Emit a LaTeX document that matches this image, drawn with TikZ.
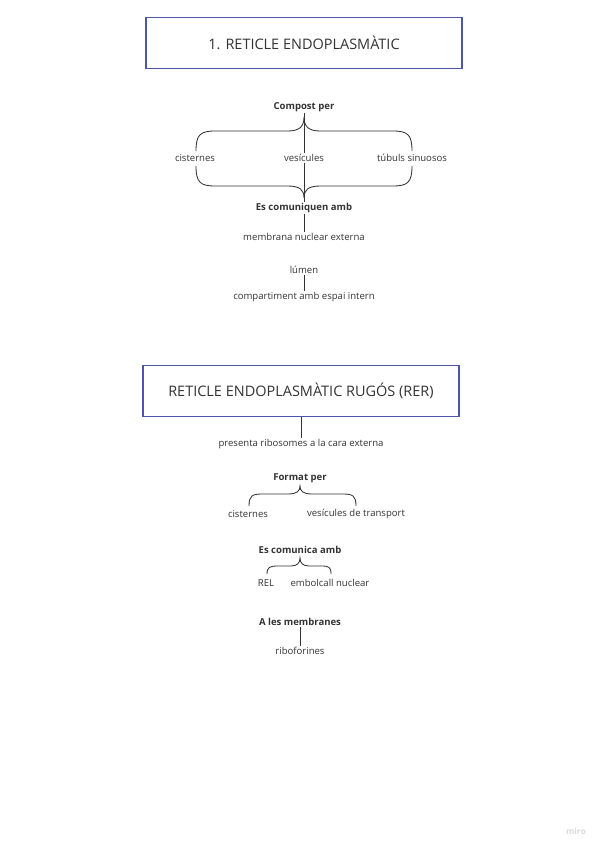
\documentclass[tikz,border=0pt]{standalone}
\usepackage{fontspec}
\setmainfont{Open Sans}
\usepackage{xcolor}
\usepackage{tikz}
\usetikzlibrary{positioning, calc}

\definecolor{boxblue}{HTML}{4B56A8}
\definecolor{inkgray}{HTML}{333333}

\begin{document}
\begin{tikzpicture}[
    x=0.025cm, y=-0.025cm,
    titlebox/.style={draw=boxblue, line width=1pt, minimum width=7.9cm, minimum height=1.27cm, font=\fontsize{10.3}{12}\selectfont, text=inkgray},
    label/.style={font=\fontsize{6.8}{8}\selectfont, text=inkgray, inner sep=1pt},
    heading/.style={font=\fontsize{6.8}{8}\selectfont\bfseries, text=inkgray, inner sep=1pt},
    link/.style={draw=inkgray, line width=0.6pt}
]
\useasboundingbox (0,0) rectangle (600,848);

% First title box
\node[titlebox] (retic) at (304,43) {1. RETICLE ENDOPLASMÀTIC};

% Composition
\node[heading] (compost) at (304,107) {Compost per};
\node[label] (cist) at (195,158) {cisternes};
\node[label] (vesic) at (304,158) {vesícules};
\node[label] (tubuls) at (412,158) {túbuls sinuosos};
\node[heading] (comuniquen) at (304,208) {Es comuniquen amb};
\node[label] (membrana) at (304,237) {membrana nuclear externa};
\node[label] (lumen) at (304,270) {lúmen};
\node[label] (compart) at (304,297) {compartiment amb espai intern};

% Braces
\draw[link] (196,151) .. controls (196,135) and (200,131) .. (215,131) -- (288,131)
    .. controls (300,131) and (304,126) .. (304,117)
    .. controls (304,126) and (308,131) .. (320,131) -- (393,131)
    .. controls (408,131) and (412,135) .. (412,151);
\draw[link] (196,166) .. controls (196,182) and (200,186) .. (215,186) -- (288,186)
    .. controls (300,186) and (304,190) .. (304,198)
    .. controls (304,190) and (308,186) .. (320,186) -- (393,186)
    .. controls (408,186) and (412,182) .. (412,166);

% Connections
\draw[link] (compost.south) -- (vesic.north);
\draw[link] (vesic.south) -- (comuniquen.north);
\draw[link] (comuniquen.south) -- (membrana.north);
\draw[link] (lumen.south) -- (compart.north);

% Second title box
\node[titlebox] (rer) at (301,391) {RETICLE ENDOPLASMÀTIC RUGÓS (RER)};
\node[label] (ribos) at (301,444) {presenta ribosomes a la cara externa};
\draw[link] (rer.south) -- (ribos.north);

% Format per
\node[heading] (format) at (300,478) {Format per};
\node[label] (cist2) at (248,514) {cisternes};
\node[label] (vestrans) at (356,514) {vesícules de transport};
\draw[link] (249,506) .. controls (249,496) and (252,494) .. (262,494) -- (288,494)
    .. controls (297,494) and (300,491) .. (300,486)
    .. controls (300,491) and (303,494) .. (312,494) -- (343,494)
    .. controls (353,494) and (356,496) .. (356,506);

% Es comunica amb
\node[heading] (comunica) at (300,550) {Es comunica amb};
\node[label] (rel) at (266,583) {REL};
\node[label] (embolcall) at (330,583) {embolcall nuclear};
\draw[link] (267,574) .. controls (267,567) and (270,566) .. (278,566) -- (291,566)
    .. controls (297,566) and (300,563) .. (300,558)
    .. controls (300,563) and (303,566) .. (309,566) -- (321,566)
    .. controls (329,566) and (331,567) .. (331,574);

% A les membranes
\node[heading] (membranes) at (300,622) {A les membranes};
\node[label] (ribofor) at (300,651) {riboforines};
\draw[link] (membranes.south) -- (ribofor.north);

% Watermark
\node[font=\fontsize{6}{7}\selectfont\bfseries, text=black!15] (miro) at (576,831) {miro};
\end{tikzpicture}
\end{document}
